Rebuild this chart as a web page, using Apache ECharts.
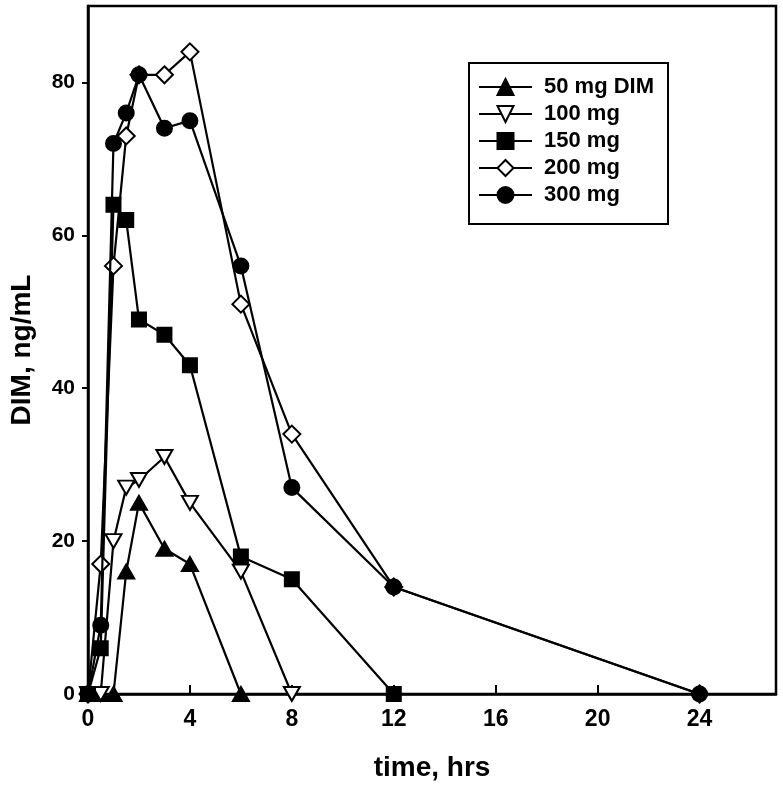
<!DOCTYPE html>
<html>
<head>
<meta charset="utf-8">
<script src="https://cdn.jsdelivr.net/npm/echarts@6/dist/echarts.min.js"></script>
<style>html,body{margin:0;padding:0;background:#fff}#c{width:783px;height:790px}</style>
</head>
<body>
<div id="c"></div>
<script>
// time points (hrs) and DIM concentrations (ng/mL)
var times50  = [0, 0.5, 1, 1.5, 2, 3, 4, 6];
var vals50   = [0, 0, 0, 16, 25, 19, 17, 0];
var times100 = [0, 0.5, 1, 1.5, 2, 3, 4, 6, 8];
var vals100  = [0, 0, 20, 27, 28, 31, 25, 16, 0];
var times150 = [0, 0.5, 1, 1.5, 2, 3, 4, 6, 8, 12];
var vals150  = [0, 6, 64, 62, 49, 47, 43, 18, 15, 0];
var times200 = [0, 0.5, 1, 1.5, 2, 3, 4, 6, 8, 12, 24];
var vals200  = [0, 17, 56, 73, 81, 81, 84, 51, 34, 14, 0];
var times300 = [0, 0.5, 1, 1.5, 2, 3, 4, 6, 8, 12, 24];
var vals300  = [0, 9, 72, 76, 81, 74, 75, 56, 27, 14, 0];
var seriesNames = ['50 mg DIM', '100 mg', '150 mg', '200 mg', '300 mg'];
var xTicks = [0, 4, 8, 12, 16, 20, 24];
var yTicks = [0, 20, 40, 60, 80];

function pairs(t, v) { return t.map(function (x, i) { return [x, v[i]]; }); }

var FONT = '"Liberation Sans", Arial, sans-serif';
var styles = [
  {symbol: 'triangle', size: [16, 14], rotate: 0, fill: '#000'},
  {symbol: 'triangle', size: [16, 14], rotate: 180, fill: '#fff'},
  {symbol: 'rect', size: 14, rotate: 0, fill: '#000'},
  {symbol: 'diamond', size: 17, rotate: 0, fill: '#fff'},
  {symbol: 'circle', size: 15, rotate: 0, fill: '#000'}
];
var dataSets = [pairs(times50, vals50), pairs(times100, vals100), pairs(times150, vals150),
                pairs(times200, vals200), pairs(times300, vals300)];

var series = dataSets.map(function (d, i) {
  var s = styles[i];
  return {
    name: seriesNames[i], type: 'line', data: d,
    symbol: s.symbol, symbolSize: s.size, symbolRotate: s.rotate, showAllSymbol: true,
    lineStyle: {color: '#000', width: 2.2},
    itemStyle: {color: s.fill, borderColor: '#000', borderWidth: 2},
    emphasis: {disabled: true}, animation: false, z: 2 + i
  };
});

var chart = echarts.init(document.getElementById('c'), null, {renderer: 'canvas'});
chart.setOption({
  animation: false,
  backgroundColor: '#fff',
  grid: {left: 88, top: 6, right: 7, bottom: 96, show: true, borderColor: '#000', borderWidth: 2.5, containLabel: false},
  legend: {
    data: seriesNames, orient: 'vertical', left: 469, top: 63,
    itemWidth: 53, itemHeight: 20, itemGap: 5,
    padding: [13, 14, 18, 9],
    borderColor: '#000', borderWidth: 2, backgroundColor: '#fff',
    textStyle: {fontFamily: FONT, fontWeight: 'bold', fontSize: 22, color: '#000', lineHeight: 21, padding: [0, 0, 0, 7]},
    selectedMode: false
  },
  xAxis: {
    type: 'value', min: 0, max: 27, interval: 4,
    name: 'time, hrs', nameLocation: 'middle', nameGap: 60,
    nameTextStyle: {fontFamily: FONT, fontWeight: 'bold', fontSize: 28, color: '#000'},
    axisLine: {show: true, onZero: false, lineStyle: {color: '#000', width: 2.5}},
    axisTick: {show: true, inside: true, length: 9, customValues: xTicks, lineStyle: {color: '#000', width: 2}},
    axisLabel: {customValues: xTicks, margin: 14, fontFamily: FONT, fontWeight: 'bold', fontSize: 23, color: '#000'},
    splitLine: {show: false}
  },
  yAxis: {
    type: 'value', min: 0, max: 90, interval: 20,
    name: 'DIM, ng/mL', nameLocation: 'middle', nameGap: 52,
    nameTextStyle: {fontFamily: FONT, fontWeight: 'bold', fontSize: 28, color: '#000'},
    axisLine: {show: true, onZero: false, lineStyle: {color: '#000', width: 2.5}},
    axisTick: {show: true, inside: false, length: 6, customValues: yTicks, lineStyle: {color: '#000', width: 2}},
    axisLabel: {customValues: yTicks, margin: 13, fontFamily: FONT, fontWeight: 'bold', fontSize: 21, color: '#000'},
    splitLine: {show: false}
  },
  series: series
});
</script>
</body>
</html>
